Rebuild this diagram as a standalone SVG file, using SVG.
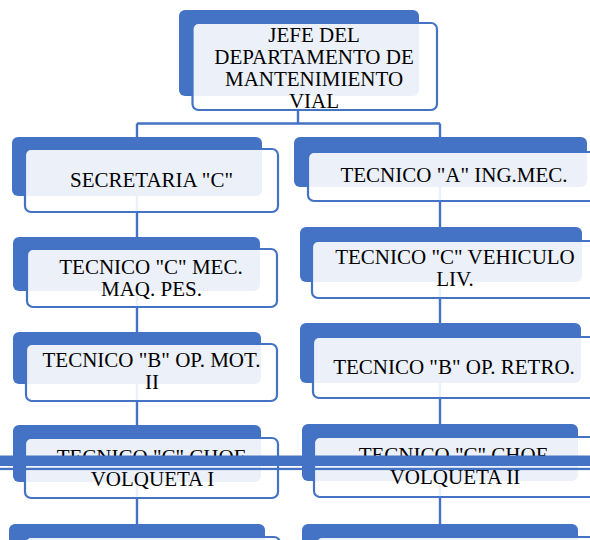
<svg xmlns="http://www.w3.org/2000/svg" width="590" height="540" viewBox="0 0 590 540">
<style>
.back{fill:#4472C4;}
.front{fill:#FFFFFF;fill-opacity:0.9;stroke:#4472C4;stroke-width:2.2;}
.lbl{font-family:"Liberation Serif","Times New Roman",serif;font-size:21px;fill:#000000;text-anchor:middle;}
.conn{stroke:#4472C4;stroke-width:2.4;fill:none;}
</style>
<rect width="590" height="540" fill="#FFFFFF"/>
<g id="connectors">
<path class="conn" d="M298,110 V123.5 M137,123.5 H440 M137,123.5 V540 M440,123.5 V540"/>
</g>
<g id="n-jefe">
<rect class="back" x="179" y="10" width="240" height="86" rx="6"/>
<rect class="front" x="192.5" y="23" width="244.5" height="87" rx="6"/>
<text class="lbl" x="314" y="42">JEFE DEL</text>
<text class="lbl" x="314" y="64">DEPARTAMENTO DE</text>
<text class="lbl" x="314" y="86">MANTENIMIENTO</text>
<text class="lbl" x="314" y="108">VIAL</text>
</g>
<g id="n-secretaria">
<rect class="back" x="12" y="137" width="250" height="59" rx="6"/>
<rect class="front" x="25" y="149" width="253" height="63" rx="6"/>
<text class="lbl" x="151.5" y="187">SECRETARIA "C"</text>
</g>
<g id="n-tecnico-a">
<rect class="back" x="294" y="137" width="293" height="50" rx="6"/>
<rect class="front" x="308" y="152" width="292" height="49" rx="6"/>
<text class="lbl" x="454" y="182">TECNICO "A" ING.MEC.</text>
</g>
<g id="n-tecnico-c-mec">
<rect class="back" x="13" y="237" width="247" height="54" rx="6"/>
<rect class="front" x="27" y="249" width="250" height="58" rx="6"/>
<text class="lbl" x="151" y="274">TECNICO "C" MEC.</text>
<text class="lbl" x="151.5" y="296">MAQ. PES.</text>
</g>
<g id="n-tecnico-c-vehiculo">
<rect class="back" x="300" y="227" width="282" height="55" rx="6"/>
<rect class="front" x="312" y="241" width="288" height="57" rx="6"/>
<text class="lbl" x="455" y="264">TECNICO "C" VEHICULO</text>
<text class="lbl" x="455" y="286">LIV.</text>
</g>
<g id="n-tecnico-b-mot">
<rect class="back" x="13" y="332" width="248" height="52" rx="6"/>
<rect class="front" x="26" y="344" width="251" height="57" rx="6"/>
<text class="lbl" x="151.5" y="367">TECNICO "B" OP. MOT.</text>
<text class="lbl" x="152" y="389">II</text>
</g>
<g id="n-tecnico-b-retro">
<rect class="back" x="300" y="323" width="281" height="60" rx="6"/>
<rect class="front" x="313" y="337" width="287" height="61" rx="6"/>
<text class="lbl" x="454" y="374">TECNICO "B" OP. RETRO.</text>
</g>
<g id="n-volqueta-1">
<rect class="back" x="13" y="425" width="248" height="57" rx="6"/>
<rect class="front" x="25" y="438" width="253" height="60" rx="6"/>
<text class="lbl" x="151" y="464">TECNICO "C" CHOF</text>
<text class="lbl" x="152.5" y="486">VOLQUETA I</text>
</g>
<g id="n-volqueta-2">
<rect class="back" x="302" y="424" width="276" height="57" rx="6"/>
<rect class="front" x="314" y="437" width="286" height="60" rx="6"/>
<text class="lbl" x="453" y="462">TECNICO "C" CHOF</text>
<text class="lbl" x="455" y="484">VOLQUETA II</text>
</g>
<g id="n-bottom-left">
<rect class="back" x="9" y="524" width="256" height="40" rx="6"/>
<rect class="front" x="25" y="537" width="255" height="40" rx="6"/>
</g>
<g id="n-bottom-right">
<rect class="back" x="302" y="524" width="276" height="40" rx="6"/>
<rect class="front" x="316" y="537" width="284" height="40" rx="6"/>
</g>
<g id="page-rule">
<rect x="0" y="455.5" width="590" height="10.5" fill="#4472C4"/>
<rect x="0" y="467.8" width="590" height="2.3" fill="#4472C4"/>
</g>
</svg>
